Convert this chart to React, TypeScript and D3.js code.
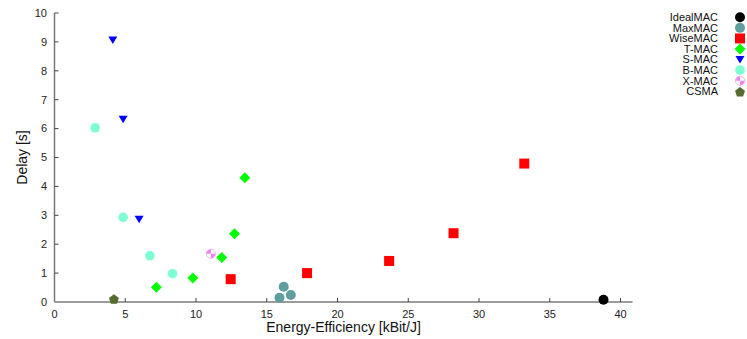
import React from "react";
import * as d3 from "d3";

// ---- data ----
const seriesNames = ["IdealMAC", "MaxMAC", "WiseMAC", "T-MAC", "S-MAC", "B-MAC", "X-MAC", "CSMA"];

const idealMAC = [{ x: 38.8, y: 0.08 }];
const maxMAC = [
  { x: 15.9, y: 0.15 },
  { x: 16.2, y: 0.53 },
  { x: 16.7, y: 0.24 },
];
const wiseMAC = [
  { x: 12.45, y: 0.79 },
  { x: 17.85, y: 1.0 },
  { x: 23.65, y: 1.42 },
  { x: 28.2, y: 2.38 },
  { x: 33.2, y: 4.79 },
];
const tMAC = [
  { x: 7.2, y: 0.51 },
  { x: 9.78, y: 0.83 },
  { x: 11.82, y: 1.54 },
  { x: 12.72, y: 2.36 },
  { x: 13.45, y: 4.3 },
];
const sMAC = [
  { x: 4.12, y: 9.07 },
  { x: 4.85, y: 6.32 },
  { x: 5.98, y: 2.86 },
];
const bMAC = [
  { x: 2.87, y: 6.03 },
  { x: 4.85, y: 2.93 },
  { x: 6.74, y: 1.6 },
  { x: 8.34, y: 0.98 },
];
const xMAC = [{ x: 11.05, y: 1.67 }];
const csma = [{ x: 4.2, y: 0.12 }];

const xTicks = [0, 5, 10, 15, 20, 25, 30, 35, 40];
const yTicks = [0, 1, 2, 3, 4, 5, 6, 7, 8, 9, 10];

const W = 747;
const H = 339;
const font = "'Liberation Sans', Arial, sans-serif";
const axisColor = "#7a7a7a";

const x = d3.scaleLinear().domain([0, 40]).range([54.5, 620.5]);
const y = d3.scaleLinear().domain([0, 10]).range([302, 13]);
const xEnd = x(40.85);

type Pt = { x: number; y: number };

function Marker({ kind, cx, cy }: { kind: string; cx: number; cy: number }) {
  switch (kind) {
    case "IdealMAC":
      return <circle cx={cx} cy={cy} r={5} fill="#000" />;
    case "MaxMAC":
      return <circle cx={cx} cy={cy} r={5} fill="#5f9ea0" />;
    case "WiseMAC":
      return <rect x={cx - 5} y={cy - 5} width={10} height={10} fill="#ff0000" />;
    case "T-MAC":
      return <path d={`M${cx},${cy - 5.5}L${cx + 5.5},${cy}L${cx},${cy + 5.5}L${cx - 5.5},${cy}Z`} fill="#00ff00" />;
    case "S-MAC":
      return <path d={`M${cx - 4.5},${cy - 3.5}L${cx + 4.5},${cy - 3.5}L${cx},${cy + 4}Z`} fill="#0000ff" />;
    case "B-MAC":
      return <circle cx={cx} cy={cy} r={4.8} fill="#7fffd4" />;
    case "X-MAC": {
      const arc = d3.arc<any>().innerRadius(0).outerRadius(4.3);
      return (
        <g transform={`translate(${cx},${cy})`}>
          <circle r={4.5} fill="#ee82ee" stroke="#f2a8f2" strokeWidth={1} />
          <path d={arc({ startAngle: 0, endAngle: Math.PI / 2 }) || ""} fill="#fff" />
          <path d={arc({ startAngle: Math.PI, endAngle: (3 * Math.PI) / 2 }) || ""} fill="#fff" />
        </g>
      );
    }
    case "CSMA": {
      const pts = d3.range(5).map((i) => {
        const a = -Math.PI / 2 + (i * 2 * Math.PI) / 5;
        return [cx + 5.2 * Math.cos(a), cy + 1 + 5.2 * Math.sin(a)];
      });
      return <path d={`M${pts.map((p) => p.join(",")).join("L")}Z`} fill="#556b2f" />;
    }
    default:
      return null;
  }
}

const seriesData: Record<string, Pt[]> = {
  IdealMAC: idealMAC,
  MaxMAC: maxMAC,
  WiseMAC: wiseMAC,
  "T-MAC": tMAC,
  "S-MAC": sMAC,
  "B-MAC": bMAC,
  "X-MAC": xMAC,
  CSMA: csma,
};

export default function App() {
  return (
    <svg width={W} height={H} style={{ position: "absolute", left: 0, top: 0 }} fontFamily={font}>
      <rect width={W} height={H} fill="#fff" />

      {/* axes */}
      <line x1={x(0)} x2={xEnd} y1={y(0)} y2={y(0)} stroke={axisColor} strokeWidth={1.5} />
      <line x1={x(0)} x2={x(0)} y1={y(0)} y2={y(10)} stroke={axisColor} strokeWidth={1.5} />

      {xTicks.map((t) => (
        <g key={"x" + t}>
          {t > 0 && <line x1={x(t)} x2={x(t)} y1={y(0)} y2={y(0) - 4} stroke="#444" strokeWidth={1} />}
          <text x={x(t)} y={318} textAnchor="middle" fontSize={11} fill="#222">
            {t}
          </text>
        </g>
      ))}
      {yTicks.map((t) => (
        <g key={"y" + t}>
          {t > 0 && <line x1={x(0)} x2={x(0) + 4} y1={y(t)} y2={y(t)} stroke="#444" strokeWidth={1} />}
          <text x={47} y={y(t)} dy="0.35em" textAnchor="end" fontSize={11} fill="#222">
            {t}
          </text>
        </g>
      ))}

      <text x={(x(0) + xEnd) / 2} y={332} textAnchor="middle" fontSize={14} fill="#111">
        Energy-Efficiency [kBit/J]
      </text>
      <text transform={`translate(22,${y(5)}) rotate(-90)`} textAnchor="middle" dy="0.35em" fontSize={14} fill="#111">
        Delay [s]
      </text>

      {/* points */}
      {seriesNames.map((name) =>
        seriesData[name].map((d, i) => <Marker key={name + i} kind={name} cx={x(d.x)} cy={y(d.y)} />)
      )}

      {/* legend */}
      {seriesNames.map((name, i) => {
        const ly = 17.3 + i * 10.57;
        return (
          <g key={"lg" + name}>
            <text x={718} y={ly} dy="0.35em" textAnchor="end" fontSize={11} fill="#111">
              {name}
            </text>
            <Marker kind={name} cx={740} cy={ly} />
          </g>
        );
      })}
    </svg>
  );
}
